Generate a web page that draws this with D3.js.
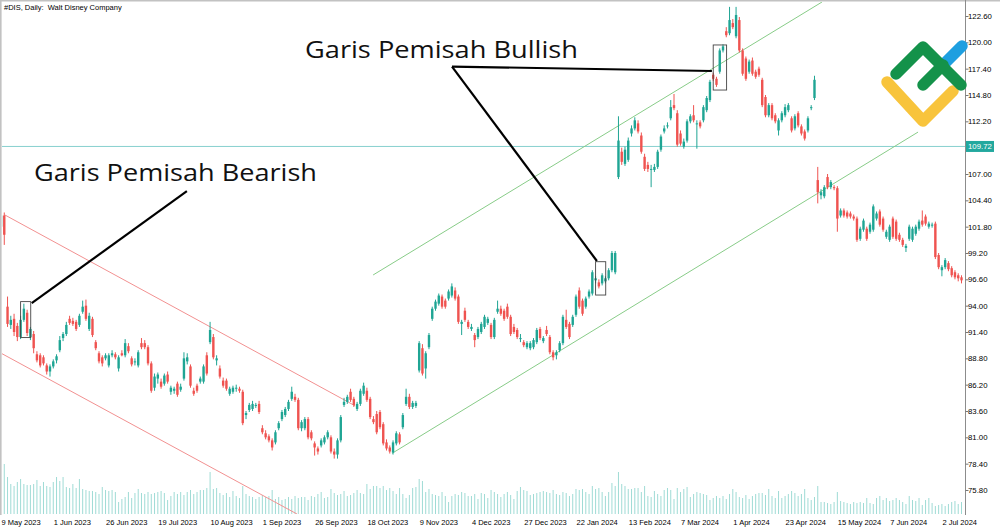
<!DOCTYPE html>
<html><head><meta charset="utf-8">
<script src="https://cdn.jsdelivr.net/npm/d3@7"></script>
<style>html,body{margin:0;padding:0;background:#fff;overflow:hidden}</style>
</head><body>
<svg id="chart" width="1000" height="529"></svg>
<script>
// ---------- DATA ----------
const chartTitle = "#DIS, Daily:  Walt Disney Company";
// daily candles [open, high, low, close], one per trading day from 9 May 2023
const ohlc = [
[101.8,103.3,101.5,102.9],[102.9,103.2,100.0,101.0],[93.9,94.9,91.9,92.2],[92.1,93.0,91.7,92.6],[92.7,93.2,91.0,91.4],
[92.0,92.3,90.5,90.9],[90.9,93.0,90.7,92.6],[92.6,94.2,92.4,93.7],[93.3,93.6,91.0,91.3],[90.9,91.9,90.6,91.7],
[91.2,91.5,89.3,89.8],[89.2,89.5,88.4,88.6],[89.1,89.3,87.9,88.1],[88.9,89.1,88.1,88.3],[88.1,88.3,87.2,87.5],
[87.5,88.2,87.0,88.0],[88.0,88.7,87.8,88.5],[88.6,89.2,88.3,89.0],[89.6,91.0,89.4,90.6],[90.8,91.4,90.5,91.2],
[91.2,92.4,91.0,92.1],[92.7,93.0,92.1,92.3],[92.5,92.8,92.0,92.2],[92.4,92.6,91.5,91.7],[92.1,93.2,91.9,93.0],
[93.4,94.5,93.2,93.9],[94.0,94.6,92.5,92.7],[91.7,93.3,91.5,93.0],[92.7,92.9,90.9,91.1],[90.4,90.6,89.6,89.8],
[89.3,89.5,88.3,88.5],[88.9,89.1,88.0,88.3],[88.8,89.3,88.6,89.1],[88.1,89.3,87.9,89.1],[89.1,89.6,88.9,89.3],
[89.2,89.4,88.7,88.9],[87.8,89.1,87.5,88.9],[89.3,89.6,89.0,89.1],[89.1,90.7,88.9,90.3],[90.0,90.3,89.3,89.5],
[88.8,89.0,88.0,88.2],[88.4,88.8,88.1,88.5],[88.1,89.6,87.9,89.4],[90.3,90.8,89.7,89.9],[90.3,90.6,89.7,89.9],
[89.9,90.1,88.1,88.3],[88.3,88.5,85.4,85.6],[85.9,87.3,85.6,87.0],[86.8,87.4,86.3,87.2],[86.5,86.8,85.8,86.0],
[86.3,87.3,86.1,87.1],[87.2,87.5,86.3,86.5],[85.5,86.1,85.2,85.9],[85.6,86.0,85.3,85.8],[86.3,86.5,85.0,85.2],
[85.7,86.3,85.5,86.0],[86.8,89.4,86.6,88.8],[88.5,89.3,88.2,88.9],[88.0,88.2,85.9,86.1],[85.6,85.9,85.1,85.3],
[86.1,86.3,85.4,85.6],[86.5,87.0,86.3,86.8],[86.5,88.2,86.3,88.0],[89.1,89.4,87.1,87.3],[90.4,92.4,90.2,91.6],
[90.9,91.2,88.7,88.9],[88.6,89.1,88.1,88.8],[87.8,88.1,86.8,87.0],[86.6,86.9,85.9,86.1],[86.6,86.8,85.6,85.8],
[85.3,86.0,85.1,85.8],[85.5,86.1,85.3,85.9],[85.8,86.2,85.5,85.9],[85.8,86.0,85.4,85.6],[85.5,85.7,82.2,82.4],
[83.2,83.6,82.8,83.4],[83.7,84.4,83.5,84.2],[83.8,84.6,83.6,84.3],[84.1,84.4,83.9,84.2],[84.3,84.6,83.3,83.5],
[81.9,82.2,81.3,81.5],[81.4,81.7,80.8,81.0],[81.1,81.3,80.5,80.7],[80.7,80.9,79.7,80.0],[80.5,81.7,80.3,81.5],
[81.9,82.6,81.7,82.4],[82.8,83.7,82.6,83.5],[83.2,84.0,83.0,83.8],[83.8,84.7,83.6,84.5],[84.8,86.0,84.6,85.5],
[85.0,85.3,84.5,84.7],[84.7,84.9,81.7,81.9],[81.9,82.7,81.6,82.5],[81.9,83.0,81.7,82.8],[82.8,83.0,80.8,81.0],
[81.5,81.7,80.7,80.9],[80.4,80.6,79.2,80.0],[79.9,80.1,79.3,79.6],[80.2,80.9,80.0,80.7],[80.5,81.2,80.3,81.0],
[81.0,81.7,80.8,81.5],[81.0,81.2,79.4,79.6],[79.6,79.9,78.9,79.3],[79.3,80.9,78.9,80.7],[80.7,83.2,80.5,83.0],
[84.2,84.9,84.0,84.5],[84.5,85.2,84.3,85.0],[85.5,85.8,84.5,84.7],[84.8,85.0,84.0,84.2],[83.8,84.5,83.6,84.3],
[84.3,85.8,84.1,85.6],[85.3,86.4,85.1,86.1],[85.6,85.9,84.5,84.7],[84.8,85.0,82.8,83.0],[82.8,83.1,82.3,82.5],
[83.3,83.6,81.3,81.5],[83.5,83.7,81.8,82.0],[82.3,82.5,80.2,80.4],[80.5,80.8,79.7,79.9],[80.0,80.2,79.4,79.6],
[79.5,80.7,79.3,80.5],[80.4,81.6,80.2,81.4],[81.3,81.5,80.3,80.5],[82.0,83.4,81.8,83.2],[84.3,85.8,84.1,85.0],
[85.0,85.3,83.8,84.0],[84.0,84.6,83.8,84.4],[84.1,84.6,83.9,84.4],[87.6,90.5,87.4,90.3],[89.8,90.2,87.1,87.3],
[87.8,89.5,86.8,89.3],[89.9,91.3,89.7,91.1],[92.7,93.9,92.5,93.7],[93.7,94.6,93.5,94.4],[94.2,95.2,94.0,95.0],
[94.9,95.1,93.7,93.9],[94.5,94.7,93.7,93.9],[94.7,95.6,94.5,95.4],[95.0,96.2,94.8,95.9],[95.5,95.8,94.5,94.7],
[94.9,95.1,92.2,92.4],[92.2,92.6,91.1,92.4],[93.5,93.8,92.4,92.6],[92.4,92.6,91.7,91.9],[91.7,92.2,91.5,91.9],
[91.1,91.3,89.9,90.6],[90.9,91.9,90.7,91.7],[91.4,92.4,91.2,92.2],[91.9,93.1,91.7,92.9],[92.3,92.9,92.1,92.7],
[92.1,92.3,90.7,90.9],[90.9,92.8,90.7,92.6],[93.4,94.5,93.2,93.7],[93.7,94.0,93.0,93.2],[93.5,93.7,92.5,92.7],
[93.9,94.2,92.7,92.9],[92.9,93.1,91.0,91.2],[91.9,92.2,91.2,91.4],[91.6,91.8,90.7,90.9],[90.7,91.2,90.4,90.8],
[90.4,90.6,89.9,90.1],[89.9,90.5,89.7,90.3],[89.8,90.5,89.6,90.3],[89.9,90.8,89.7,90.6],[90.4,91.8,90.2,91.6],
[91.7,91.9,90.6,90.8],[90.5,91.0,90.3,90.8],[91.6,92.0,91.0,91.2],[90.9,91.1,89.2,89.4],[89.4,89.6,88.6,88.9],
[89.1,89.6,88.7,89.4],[89.6,90.5,89.4,90.3],[90.3,93.1,90.1,92.9],[92.6,93.6,91.7,91.9],[92.2,92.4,90.7,90.9],
[92.1,93.1,91.9,92.9],[93.1,95.1,92.9,94.9],[95.5,95.8,93.7,93.9],[94.5,94.7,93.0,93.2],[93.9,94.9,93.7,94.7],
[94.9,95.6,94.7,95.4],[95.2,97.5,95.0,97.3],[96.5,96.9,96.2,96.7],[96.3,96.6,95.7,95.9],[96.2,97.2,96.0,97.0],
[96.4,96.9,96.2,96.7],[96.7,97.7,96.5,97.5],[97.5,99.4,97.3,99.2],[97.3,99.4,97.1,99.2],[106.7,112.7,106.5,110.3],
[109.2,109.6,107.9,108.2],[108.0,109.7,107.8,109.4],[108.4,110.6,108.2,110.3],[111.0,111.8,110.7,111.5],[111.5,112.6,111.3,112.3],
[112.0,112.3,111.0,111.2],[110.8,111.1,109.0,109.2],[108.7,109.0,107.3,107.5],[107.9,108.2,107.2,107.5],[107.4,107.9,105.7,107.5],
[107.4,108.0,107.2,107.7],[107.7,109.4,107.5,109.2],[109.4,110.9,109.2,110.7],[111.2,111.8,111.0,111.5],[111.7,112.1,111.5,111.8],
[112.5,114.3,112.3,113.6],[113.8,114.9,113.3,113.5],[113.0,113.3,109.7,109.9],[111.0,111.3,109.8,110.0],[109.7,110.5,109.5,110.2],
[110.3,112.4,110.1,112.2],[112.2,112.9,112.0,112.7],[112.8,113.8,112.1,112.3],[111.9,112.3,109.5,112.0],[112.1,112.3,111.5,111.7],
[112.3,113.8,112.1,113.6],[113.3,114.7,113.1,114.5],[114.3,116.3,114.1,116.1],[116.8,117.0,116.2,116.4],[116.4,116.6,115.6,115.8],
[117.1,119.4,116.9,119.2],[119.2,119.8,119.0,119.6],[121.1,121.5,120.5,120.7],[120.9,123.5,120.7,122.2],[121.9,122.3,121.3,121.5],
[120.6,123.5,120.4,122.7],[122.2,122.5,119.0,119.2],[119.2,119.4,116.7,116.9],[118.4,118.6,116.2,116.4],[117.1,118.3,116.9,118.1],
[118.2,118.5,116.7,116.9],[117.1,117.3,116.4,116.6],[117.4,117.6,116.6,116.8],[116.3,116.5,113.6,113.8],[114.6,114.8,112.6,112.8],
[112.8,114.0,112.6,113.8],[113.8,114.0,112.3,112.5],[112.8,113.0,112.0,112.2],[111.3,112.5,110.8,112.3],[112.3,113.2,112.1,113.0],
[112.8,113.9,112.6,113.6],[113.3,114.0,113.1,113.8],[112.5,112.7,111.1,111.3],[111.5,112.9,111.3,112.7],[113.0,113.2,111.6,111.8],
[111.7,111.9,110.8,111.0],[111.2,111.4,110.3,110.5],[111.3,112.7,111.1,112.5],[113.5,113.8,113.3,113.6],[114.5,116.7,114.3,116.3],
[106.4,107.7,104.1,105.2],[104.9,105.5,104.5,105.2],[104.8,105.9,104.6,105.7],[106.7,107.0,105.5,105.7],[105.7,106.4,105.5,106.2],
[105.7,105.9,105.4,105.6],[105.6,105.8,101.3,102.6],[102.9,103.6,102.7,103.4],[103.4,103.6,102.7,102.9],[103.2,103.4,102.6,102.8],
[103.1,103.3,102.6,102.8],[102.8,103.0,102.4,102.6],[102.6,102.8,100.3,100.5],[100.6,101.8,100.4,101.6],[101.5,102.6,101.3,102.4],
[101.6,101.8,100.4,100.6],[101.3,102.2,101.1,102.0],[101.5,104.0,101.3,103.8],[102.6,103.3,102.4,103.1],[103.3,103.5,101.8,102.0],
[102.6,102.8,101.3,101.5],[100.8,101.5,100.6,101.3],[100.5,102.0,100.3,101.8],[102.6,102.8,100.6,100.8],[102.3,102.5,100.4,100.6],
[101.0,101.2,100.3,100.5],[100.5,100.7,99.8,100.0],[99.7,100.1,99.3,99.9],[100.6,102.0,100.4,101.8],[100.5,101.8,100.3,101.6],
[101.1,102.0,100.9,101.8],[101.6,102.5,101.4,102.3],[102.4,103.4,101.8,102.0],[102.8,103.0,101.9,102.1],[101.8,102.3,101.6,102.1],
[101.9,102.2,101.7,102.0],[102.1,102.3,98.6,98.8],[99.0,99.2,97.6,97.8],[97.5,98.0,96.9,97.8],[97.8,98.7,97.6,98.5],
[98.2,98.4,97.4,97.6],[97.7,97.9,96.8,97.0],[97.3,97.5,96.6,96.8],[97.0,97.2,96.4,96.7],[96.8,97.0,96.2,96.5]
];
// tick volume (thousands)
const volumes = [
50,50,
37,30,28,32,35,30,29,29,30,34,28,32,28,27,
32,37,33,37,27,26,30,26,35,25,24,23,23,22,20,27,
24,23,24,22,12,15,17,22,16,21,25,21,20,22,20,21,
22,23,21,14,18,22,20,22,19,22,24,20,22,24,24,26,
42,25,26,21,19,21,17,23,18,16,28,20,18,17,15,17,
19,17,18,24,15,17,14,15,17,15,18,16,17,17,14,18,
17,20,22,16,17,25,21,19,20,23,18,19,21,24,21,20,
30,25,28,28,26,28,24,26,23,20,26,20,16,19,26,27,
35,33,22,25,20,19,18,22,18,12,18,20,19,22,21,18,
18,20,15,21,20,16,24,22,20,17,20,22,19,15,23,27,
24,23,19,20,21,22,23,22,21,24,20,19,22,21,18,20,
25,24,25,22,20,28,25,26,22,18,22,31,28,42,30,28,
25,25,26,26,22,28,18,17,23,20,18,24,26,24,15,26,
22,25,27,17,20,22,21,20,19,14,16,18,16,18,15,20,
25,22,17,16,19,15,18,20,21,21,19,25,18,16,23,16,
18,20,23,21,18,20,25,16,14,17,28,12,12,11,10,12,
22,13,12,11,10,12,11,12,11,16,11,10,16,18,14,16,
13,14,16,14,12,10,18,14,13,16,9,14,16,11,8,9,
10,8,10,12,13,10,12
];
const dateLabels = ["9 May 2023","1 Jun 2023","26 Jun 2023","19 Jul 2023","10 Aug 2023","1 Sep 2023","26 Sep 2023","18 Oct 2023","9 Nov 2023","4 Dec 2023","27 Dec 2023","22 Jan 2024","13 Feb 2024","7 Mar 2024","1 Apr 2024","23 Apr 2024","15 May 2024","7 Jun 2024","2 Jul 2024"];
const dateLabelIndex = [0,16,32,48,64,80,96,112,128,144,160,176,192,208,224,240,256,272,288];
const priceTicks = [122.60,120.00,117.40,114.80,112.20,107.00,104.40,101.80,99.20,96.60,94.00,91.40,88.80,86.20,83.60,81.00,78.40,75.80];
const currentPrice = 109.72;
// channel lines: [[barIndex, price],[barIndex, price]]
const bearishChannel = [[[1.22,102.95],[108.4,84.11]], [[0,89.31],[90.6,73.43]]];
const bullishChannel = [[[113.9,97.03],[251.3,123.98]], [[119.7,79.42],[280.7,111.14]]];
// annotation boxes [i0, i1, priceTop, priceBottom]
const annotationBoxes = [[6.0,9.1,94.4,90.85],[218.0,222.1,119.74,115.29],[182.0,185.1,98.34,95.05]];
const annotationLines = [
  [[9.4,94.25],[56.9,105.3]],
  [[138.05,117.61],[217.6,117.17]],
  [[138.05,117.61],[182.4,98.41]]
];
const annotationTexts = ["Garis Pemisah Bearish","Garis Pemisah Bullish"];
const annotationTextAt = [[10.1,106.31],[93.05,118.45]];

// ---------- CHART ----------
const W = 1000, H = 529;
const plotL = 2, plotR = 965.5, plotT = 2, plotB = 514;
const svg = d3.select("#chart");
const x = d3.scaleLinear().domain([0, 294]).range([1, 961.5]);
const y = d3.scaleLinear().domain([75.8, 122.6]).range([490, 16]);
const vy = d3.scaleLinear().domain([0, 100]).range([plotB, plotB - 100]);

svg.append("rect").attr("width", W).attr("height", H).attr("fill", "#fff");
svg.append("defs").append("clipPath").attr("id", "plotClip")
  .append("rect").attr("x", plotL).attr("y", plotT).attr("width", plotR - plotL).attr("height", plotB - plotT);

const plot = svg.append("g").attr("clip-path", "url(#plotClip)");

// volume
plot.append("g").selectAll("line").data(volumes).join("line")
  .attr("x1", (d, i) => x(i)).attr("x2", (d, i) => x(i))
  .attr("y1", vy(0)).attr("y2", d => vy(d))
  .attr("stroke", "#9fdbd5").attr("stroke-width", 1);

// current price line
plot.append("line").attr("x1", plotL).attr("x2", plotR)
  .attr("y1", y(currentPrice)).attr("y2", y(currentPrice))
  .attr("stroke", "#86d0cf").attr("stroke-width", 1);

// channels
const lineGen = d3.line().x(d => x(d[0])).y(d => y(d[1]));
plot.append("g").selectAll("path").data(bearishChannel).join("path")
  .attr("d", lineGen).attr("fill", "none").attr("stroke", "#f29191").attr("stroke-width", 1);
plot.append("g").selectAll("path").data(bullishChannel).join("path")
  .attr("d", lineGen).attr("fill", "none").attr("stroke", "#88cc88").attr("stroke-width", 1);

// candles
const upC = "#1fa594", dnC = "#ef5350";
const cg = plot.append("g").selectAll("g").data(ohlc).join("g");
cg.append("line")
  .attr("x1", (d, i) => x(i)).attr("x2", (d, i) => x(i))
  .attr("y1", d => y(d[1])).attr("y2", d => y(d[2]))
  .attr("stroke", d => d[3] >= d[0] ? upC : dnC).attr("stroke-width", 1);
cg.append("rect")
  .attr("x", (d, i) => x(i) - 1.2).attr("width", 2.4)
  .attr("y", d => y(Math.max(d[0], d[3])))
  .attr("height", d => Math.max(1, Math.abs(y(d[0]) - y(d[3]))))
  .attr("fill", d => d[3] >= d[0] ? upC : dnC);

// annotation boxes and lines
plot.append("g").selectAll("rect").data(annotationBoxes).join("rect")
  .attr("x", d => x(d[0])).attr("width", d => x(d[1]) - x(d[0]))
  .attr("y", d => y(d[2])).attr("height", d => y(d[3]) - y(d[2]))
  .attr("fill", "none").attr("stroke", "#444").attr("stroke-width", 0.9);
plot.append("g").selectAll("path").data(annotationLines).join("path")
  .attr("d", lineGen).attr("fill", "none").attr("stroke", "#000").attr("stroke-width", 2.2);

svg.append("g").selectAll("text").data(annotationTexts).join("text")
  .attr("x", (d, k) => x(annotationTextAt[k][0]))
  .attr("y", (d, k) => y(annotationTextAt[k][1]))
  .attr("textLength", (d, k) => k === 0 ? 283 : 273)
  .attr("lengthAdjust", "spacingAndGlyphs")
  .attr("font-family", "'Open Sans', 'DejaVu Sans', sans-serif")
  .attr("font-size", 23.5).attr("fill", "#111")
  .text(d => d);

// frame
svg.append("rect").attr("x", 0).attr("y", 0).attr("width", W).attr("height", 1.5).attr("fill", "#c2c2c2");
svg.append("rect").attr("x", 0).attr("y", 0).attr("width", 1.6).attr("height", plotB + 1).attr("fill", "#c2c2c2");
svg.append("line").attr("x1", plotR).attr("x2", plotR).attr("y1", 0).attr("y2", plotB + 1)
  .attr("stroke", "#8c8c8c").attr("stroke-width", 1);

// price axis
const yAxis = d3.axisRight(y).tickValues(priceTicks).tickSize(3).tickFormat(d3.format(".2f"));
const ya = svg.append("g").attr("transform", `translate(${plotR},0)`).call(yAxis);
ya.select(".domain").remove();
ya.selectAll(".tick line").attr("stroke", "#777");
ya.selectAll(".tick text").attr("x", 2.5)
  .attr("font-family", "'Liberation Sans', Arial, sans-serif").attr("font-size", 7.8).attr("fill", "#000");

// current price label
const cp = svg.append("g").attr("transform", `translate(${plotR},${y(currentPrice)})`);
cp.append("rect").attr("x", 0.5).attr("y", -5.5).attr("width", 28).attr("height", 11).attr("fill", "#22a89e");
cp.append("text").attr("x", 2.5).attr("dy", "0.33em").attr("fill", "#fff")
  .attr("font-family", "'Liberation Sans', Arial, sans-serif").attr("font-size", 7.8)
  .text(d3.format(".2f")(currentPrice));

// date axis
const xAxis = d3.axisBottom(x).tickValues(dateLabelIndex).tickSize(0)
  .tickFormat((d, k) => dateLabels[k]);
const xa = svg.append("g").attr("transform", `translate(0,${plotB})`).call(xAxis);
xa.select(".domain").remove();
xa.selectAll(".tick text").attr("text-anchor", "start").attr("y", 10.5).attr("dy", null).attr("x", 0)
  .attr("font-family", "'Liberation Sans', Arial, sans-serif").attr("font-size", 7.5).attr("fill", "#000");

// title
svg.append("text").attr("x", 4).attr("y", 10).style("white-space", "pre")
  .attr("font-family", "'Liberation Sans', Arial, sans-serif").attr("font-size", 7.5).attr("fill", "#000")
  .text(chartTitle);

// logo (watermark)
const logo = svg.append("g").attr("fill", "none").attr("stroke-linecap", "round").attr("stroke-linejoin", "round").attr("stroke-width", 11.5);
logo.append("path").attr("d", "M887,82 L923,121 L953,91").attr("stroke", "#f8c43c");
logo.append("path").attr("d", "M943,65 L962,46").attr("stroke", "#1e9fe0");
logo.append("path").attr("d", "M923,85 L943,65").attr("stroke", "#14924a");
logo.append("path").attr("d", "M896,74 L923,47 L961,85").attr("stroke", "#14924a");
</script>
</body></html>
